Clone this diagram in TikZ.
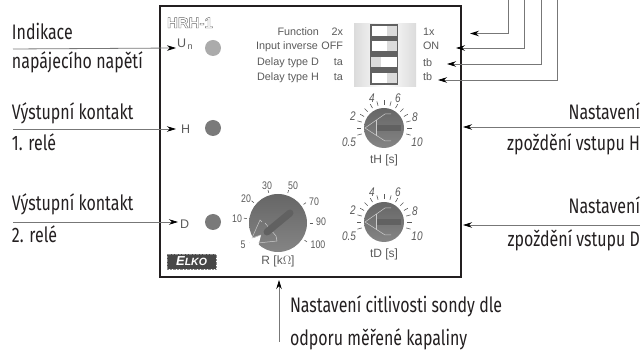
\documentclass[tikz,border=0pt]{standalone}
\usepackage{fontspec}
\usetikzlibrary{arrows.meta}
\newfontfamily\calloutfont[FakeStretch=.76]{Fira Sans}
\newfontfamily\panelfont{Liberation Sans}
\newfontfamily\dialfont[FakeStretch=.8]{Liberation Sans}
\definecolor{inkdark}{HTML}{231F20}
\definecolor{panelgray}{HTML}{5A5A5A}
\definecolor{wiregray}{HTML}{777777}
\newcommand{\outlined}[1]{\special{pdf:code q 1 Tr 0.4 w 0.4 G}#1\special{pdf:code Q}}
\tikzset{
    every node/.style={inner sep=0pt, outer sep=0pt, text=panelgray, font=\panelfont\fontsize{10.8}{12}\selectfont},
    callout/.style={anchor=base west, text=inkdark, font=\calloutfont\fontsize{21}{24}\selectfont},
    calloutr/.style={callout, anchor=base east},
    dialnum/.style={font=\dialfont\itshape\fontsize{12.5}{13}\selectfont},
    rnum/.style={font=\dialfont\fontsize{11}{12}\selectfont},
    pinname/.style={anchor=base west, font=\panelfont\fontsize{12.5}{13}\selectfont},
    led/.style={circle, minimum size=16pt, fill=#1},
    knob/.style={circle, minimum size=#1, top color=black!60, bottom color=black!48},
    wire/.style={draw=wiregray, line width=.8pt, -{Stealth[black, length=9pt, width=5.5pt]}},
    tickline/.style={draw=panelgray, line width=.6pt},
    pointer/.style={draw=black!20, line width=.5pt}
}

\begin{document}
\begin{tikzpicture}[x=1pt, y=-1pt]
  \useasboundingbox (0,0) rectangle (640,352);

  \node (panel) [rectangle, draw=inkdark, line width=2pt, minimum width=301pt, minimum height=271pt] at (310.5,141.5) {};

  \node (title) [anchor=base west, font=\panelfont\bfseries\fontsize{15}{16}\selectfont] at (167,28) {\outlined{HRH-1}};
  \node (U_n) [pinname] at (177,48) {U\raisebox{-1.5pt}{\fontsize{9}{9}\selectfont\,n}};
  \node (H) [pinname] at (181,134) {H};
  \node (D) [pinname] at (180,229) {D};
  \node (led_u) [led=black!33] at (213,48) {};
  \node (led_h) [led=black!52] at (213,128) {};
  \node (led_d) [led=black!52] at (213,222) {};

  \node (function) [anchor=base east] at (319,36) {Function};
  \node (inverse) [anchor=base east] at (318,50) {Input inverse};
  \node (type_d) [anchor=base east] at (319,66) {Delay type D};
  \node (type_h) [anchor=base east] at (319,81) {Delay type H};
  \node (left_a) [anchor=base east] at (343,36) {2x};
  \node (left_b) [anchor=base east] at (343,50) {OFF};
  \node (left_c) [anchor=base east] at (343,66) {ta};
  \node (left_d) [anchor=base east] at (343,81) {ta};
  \node (right_a) [anchor=base west] at (423,36) {1x};
  \node (right_b) [anchor=base west] at (423,50) {ON};
  \node (right_c) [anchor=base west] at (423,67) {tb};
  \node (right_d) [anchor=base west] at (423,81) {tb};

  \shade [left color=black!14, right color=white] (354,24) rectangle (385,87);
  \shade [left color=white, right color=black!14] (385,24) rectangle (416,87);
  \fill [black!62] (370,24) rectangle (398,85);
  \foreach \top/\knobx in {26/387, 41/387, 57/371, 73/387} {
    \fill [white] (371.5,\top) rectangle (397,\top+10);
    \fill [black!14] (\knobx,\top) rectangle (\knobx+10,\top+10);
  }

  \foreach \cx/\cy/\nm in {384/128/tH, 384/222/tD} {
    \foreach \a in {195,180,...,-15} {
      \draw [tickline] (\cx,\cy) ++(\a:23pt) -- ++(\a:4.5pt);
    }
    \node [knob=40pt] at (\cx,\cy) {};
    \fill [black!62] (\cx-8,\cy-2.5) rectangle (\cx+17,\cy+3.5);
    \draw [pointer] (\cx+7,\cy-14) -- (\cx+1,\cy-14) -- (\cx-19,\cy) -- (\cx+1,\cy+13) -- (\cx+7,\cy+13);
    \draw [pointer] (\cx-8,\cy-8) -- (\cx-8,\cy+8);
    \node [dialnum] at (\cx-35,\cy+14) {0.5};
    \node [dialnum] at (\cx-31,\cy-12) {2};
    \node [dialnum] at (\cx-12,\cy-30) {4};
    \node [dialnum] at (\cx+14,\cy-30) {6};
    \node [dialnum] at (\cx+31,\cy-11) {8};
    \node [dialnum] at (\cx+33,\cy+14) {10};
    \node [font=\panelfont\fontsize{12}{13}\selectfont] at (\cx,\cy+32.5) {\nm\ [s]};
  }

  \foreach \a in {215,172,140,107,72,36,0,-33} {
    \draw [tickline] (278,223) ++(\a:31.5pt) -- ++(\a:3pt);
  }
  \node (dial_r) [knob=58pt] at (278,223) {};
  \fill [white] (249,240) -- (261,235) -- (258,247) -- (250,247) -- cycle;
  \draw [pointer] (262,222) -- (260,220) -- (252,238) -- (261,235);
  \draw [pointer] (258,243) -- (277,241) -- (276,236) -- (265,223);
  \draw [black!62, line width=7pt, line cap=round] (290,213) -- (267,232);
  \node (r_5) [rnum] at (243,245) {5};
  \node (r_10) [rnum] at (237,219) {10};
  \node (r_20) [rnum] at (246,199) {20};
  \node (r_30) [rnum] at (267,186) {30};
  \node (r_50) [rnum] at (293,186) {50};
  \node (r_70) [rnum] at (314,202) {70};
  \node (r_90) [rnum] at (321,222) {90};
  \node (r_100) [rnum] at (318,245) {100};
  \node (r_unit) [font=\panelfont\fontsize{12}{13}\selectfont] at (278,261) {R [k$\Omega$]};

  \node (logo) [rectangle, fill=black!72, draw=black!45, densely dotted, minimum width=49pt, minimum height=15pt, text=white, font=\panelfont\bfseries\itshape\fontsize{13}{13}\selectfont] at (191.5,261.5) {E\fontsize{10.5}{10.5}\selectfont LKO};

  \node (ind_a) [callout] at (12,40) {Indikace};
  \node (ind_b) [callout] at (12,69) {napájecího napětí};
  \node (rel1_a) [callout] at (12,120) {Výstupní kontakt};
  \node (rel1_b) [callout] at (12,151) {1. relé};
  \node (rel2_a) [callout] at (12,211) {Výstupní kontakt};
  \node (rel2_b) [callout] at (12,243) {2. relé};
  \node (th_a) [calloutr] at (640,120) {Nastavení};
  \node (th_b) [calloutr] at (640,151) {zpoždění vstupu H};
  \node (td_a) [calloutr] at (640,214) {Nastavení};
  \node (td_b) [calloutr] at (640,247) {zpoždění vstupu D};
  \node (sens_a) [callout] at (290,313) {Nastavení citlivosti sondy dle};
  \node (sens_b) [callout] at (290,346) {odporu měřené kapaliny};

  \coordinate (in_u) at (13,49);
  \coordinate (in_h) at (13,129);
  \coordinate (in_d) at (13,222);
  \coordinate (tip_u) at (176,48);
  \coordinate (tip_h) at (176,129);
  \coordinate (tip_d) at (178,222);
  \coordinate (in_th) at (640,127);
  \coordinate (tip_th) at (463,127);
  \coordinate (in_td) at (640,225);
  \coordinate (tip_td) at (463,225);
  \coordinate (in_sens) at (279,342);
  \coordinate (tip_sens) at (279,280);
  \draw [wire] (in_u) -- (tip_u);
  \draw [wire] (in_h) -- (tip_h);
  \draw [wire] (in_d) -- (tip_d);
  \draw [wire] (in_th) -- (tip_th);
  \draw [wire] (in_td) -- (tip_td);
  \draw [wire] (in_sens) -- (tip_sens);

  \coordinate (top_a) at (508,0);
  \coordinate (top_b) at (524,0);
  \coordinate (top_c) at (541,0);
  \coordinate (top_d) at (557,0);
  \coordinate (tip_a) at (470,33.5);
  \coordinate (tip_b) at (456,48);
  \coordinate (tip_c) at (447,64);
  \coordinate (tip_d2) at (438,80);
  \draw [wire] (top_a) |- (tip_a);
  \draw [wire] (top_b) |- (tip_b);
  \draw [wire] (top_c) |- (tip_c);
  \draw [wire] (top_d) |- (tip_d2);
\end{tikzpicture}
\end{document}
